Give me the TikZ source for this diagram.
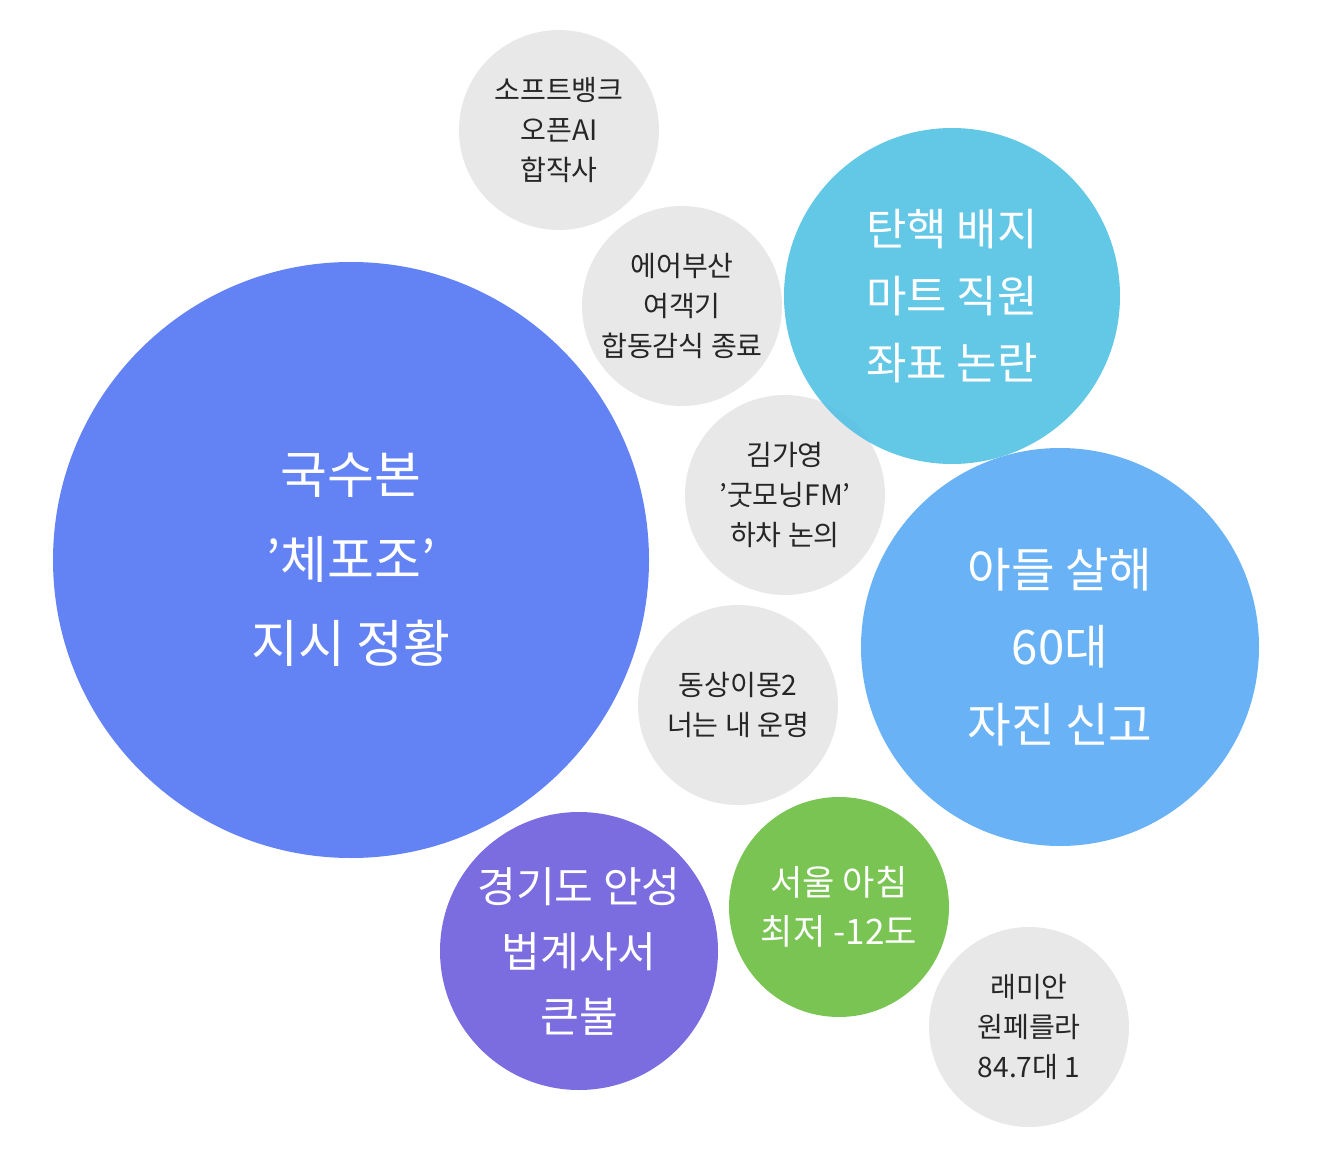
\documentclass[tikz,border=0pt]{standalone}
\usepackage{fontspec}
\setmainfont{Noto Sans CJK KR}
\begin{document}
\begin{tikzpicture}[x=0.02cm,y=-0.02cm,
  bub/.style={circle,inner sep=0pt,align=center},
  grayb/.style={bub,fill=gray!18,text=black!85,font=\fontsize{16}{23}\selectfont},
  white/.style={text=white}]
\useasboundingbox (0,0) rectangle (1326,1162);
\node[grayb,minimum size=200*0.02cm] (a) at (559,130) {소프트뱅크\\오픈AI\\합작사};
\node[grayb,minimum size=200*0.02cm] (b) at (682,306) {에어부산\\여객기\\합동감식 종료};
\node[grayb,minimum size=200*0.02cm] (c) at (785,495) {김가영\\'굿모닝FM'\\하차 논의};
\node[grayb,minimum size=200*0.02cm] (d) at (738,705) {동상이몽2\\너는 내 운명};
\node[grayb,minimum size=200*0.02cm] (e) at (1029,1027) {래미안\\원페를라\\84.7대 1};
\node[bub,fill={rgb,255:red,99;green,131;blue,245},white,minimum size=596*0.02cm,font=\fontsize{29}{48}\selectfont] (f) at (351,560) {국수본\\'체포조'\\지시 정황};
\node[bub,fill={rgb,255:red,86;green,194;blue,228},fill opacity=0.92,text opacity=1,white,minimum size=336*0.02cm,font=\fontsize{25}{38}\selectfont] (g) at (952,296) {탄핵 배지\\마트 직원\\좌표 논란};
\node[bub,fill={rgb,255:red,104;green,178;blue,245},white,minimum size=398*0.02cm,font=\fontsize{27}{44}\selectfont] (h) at (1060,647) {아들 살해\\60대\\자진 신고};
\node[bub,fill={rgb,255:red,123;green,108;blue,224},white,minimum size=278*0.02cm,font=\fontsize{24}{37}\selectfont] (i) at (579,951) {경기도 안성\\법계사서\\큰불};
\node[bub,fill={rgb,255:red,121;green,196;blue,83},white,minimum size=220*0.02cm,font=\fontsize{20}{28}\selectfont] (j) at (839,907) {서울 아침\\최저 -12도};
\end{tikzpicture}
\end{document}
